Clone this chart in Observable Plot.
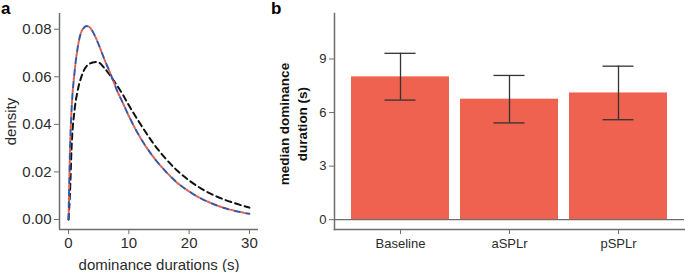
<!DOCTYPE html>
<html>
<head>
<meta charset="utf-8">
<script src="https://cdn.jsdelivr.net/npm/d3@7"></script>
<script src="https://cdn.jsdelivr.net/npm/@observablehq/plot@0.6"></script>
<style>
  html, body { margin: 0; padding: 0; background: #fff; }
  #wrap { position: relative; width: 685px; height: 272px; font-family: "Liberation Sans", Arial, Helvetica, sans-serif; }
  #pa { position: absolute; left: 0; top: 0; }
  #pb { position: absolute; left: 260px; top: 0; }
  .panel-letter { position: absolute; font-weight: bold; font-size: 17px; line-height: 1; }
</style>
</head>
<body>
<div id="wrap">
  <div id="pa"></div>
  <div id="pb"></div>
  <div class="panel-letter" style="left:1px;top:0px;">a</div>
  <div class="panel-letter" style="left:271px;top:0px;">b</div>
</div>
<script>
// Panel a: density curves
const durX = [0, 0.25, 0.5, 1, 1.5, 2, 2.5, 3, 3.5, 4, 4.5, 5, 6, 7, 8, 9, 10, 11, 12, 14, 16, 18, 20, 22, 24, 26, 28, 30];
const densBaseline = [0, 0.012, 0.03, 0.046, 0.054, 0.059, 0.0625, 0.0645, 0.0655, 0.066, 0.0662, 0.066, 0.0635, 0.0602, 0.0565, 0.0525, 0.048, 0.0438, 0.0398, 0.0322, 0.0259, 0.0206, 0.0164, 0.013, 0.0103, 0.0082, 0.0065, 0.005];
const densRed = [0, 0.03, 0.046, 0.062, 0.072, 0.078, 0.0805, 0.0813, 0.0808, 0.079, 0.0765, 0.0735, 0.067, 0.061, 0.0545, 0.049, 0.0435, 0.0385, 0.034, 0.0265, 0.0205, 0.0155, 0.0118, 0.0088, 0.0065, 0.0047, 0.0034, 0.0024];
const densBlue = [0, 0.03, 0.046, 0.062, 0.072, 0.078, 0.0805, 0.0813, 0.0808, 0.079, 0.0765, 0.0735, 0.067, 0.061, 0.0545, 0.049, 0.0435, 0.0385, 0.034, 0.0265, 0.0205, 0.0155, 0.0118, 0.0088, 0.0065, 0.0047, 0.0034, 0.0024];

// Panel b: bars
const conditions = ["Baseline", "aSPLr", "pSPLr"];
const medians = [8.0, 6.75, 7.1];
const errLow = [6.7, 5.42, 5.6];
const errHigh = [9.32, 8.08, 8.6];
const yTicksB = [0, 3, 6, 9];
const xTicksA = [0, 10, 20, 30];
const yTicksA = [0, 0.02, 0.04, 0.06, 0.08];

const axisColor = "#6e6e6e";
const textColor = "#2b2b2b";

const toPts = (ys) => durX.map((x, i) => ({x, y: ys[i]}));

const pa = Plot.plot({
  width: 260, height: 272,
  marginLeft: 59, marginRight: 2, marginTop: 13, marginBottom: 43,
  style: {fontFamily: "Liberation Sans, Arial, sans-serif", fontSize: "15px", color: textColor, background: "transparent"},
  x: {domain: [-1.5, 31.5]},
  y: {domain: [-0.0042, 0.0866]},
  marks: [
    Plot.ruleX([-1.5], {stroke: axisColor, strokeWidth: 1.5}),
    Plot.ruleY([-0.0042], {stroke: axisColor, strokeWidth: 1.5}),
    Plot.axisX({ticks: xTicksA, tickSize: 5, tickPadding: 3, stroke: axisColor, fill: textColor, fontSize: 15,
      label: "dominance durations (s)", labelAnchor: "center", labelArrow: "none", labelOffset: 40}),
    Plot.axisY({ticks: yTicksA, tickSize: 5, tickPadding: 3, stroke: axisColor, fill: textColor, fontSize: 15,
      tickFormat: d3.format(".2f"),
      label: "density", labelAnchor: "center", labelArrow: "none", labelOffset: 54}),
    Plot.line(toPts(densBaseline), {x: "x", y: "y", stroke: "#111", strokeWidth: 2, strokeDasharray: "6,4", curve: "monotone-x"}),
    Plot.line(toPts(densBlue), {x: "x", y: "y", stroke: "#3c56a6", strokeWidth: 2, strokeDasharray: "6,6", curve: "monotone-x"}),
    Plot.line(toPts(densRed), {x: "x", y: "y", stroke: "#e8604e", strokeWidth: 2, strokeDasharray: "3,9", strokeDashoffset: -7.5, curve: "monotone-x"})
  ]
});
document.getElementById("pa").append(pa);

const barData = conditions.map((c, i) => ({c, m: medians[i], lo: errLow[i], hi: errHigh[i]}));

const pb = Plot.plot({
  width: 425, height: 272,
  marginLeft: 74, marginRight: 1, marginTop: 13, marginBottom: 43,
  style: {fontFamily: "Liberation Sans, Arial, sans-serif", fontSize: "13px", color: textColor, background: "transparent"},
  x: {domain: conditions, paddingInner: 0.1, paddingOuter: 0.145},
  y: {domain: [-0.55, 11.55]},
  marks: [
    Plot.barY(barData, {x: "c", y1: 0, y2: "m", fill: "#ef6250"}),
    Plot.ruleY([0], {stroke: axisColor, strokeWidth: 1.3}),
    Plot.ruleX(barData, {x: "c", y1: "lo", y2: "hi", stroke: "#333", strokeWidth: 1.3}),
    Plot.tickY(barData, {x: "c", y: "lo", stroke: "#333", strokeWidth: 1.3, insetLeft: 33.5, insetRight: 33.5}),
    Plot.tickY(barData, {x: "c", y: "hi", stroke: "#333", strokeWidth: 1.3, insetLeft: 33.5, insetRight: 33.5}),
    Plot.frame({anchor: "left", stroke: axisColor, strokeWidth: 1.5}),
    Plot.frame({anchor: "bottom", stroke: axisColor, strokeWidth: 1.5}),
    Plot.axisX({tickSize: 5, tickPadding: 4, stroke: axisColor, fill: textColor, fontSize: 13, label: null}),
    Plot.axisY({ticks: yTicksB, tickSize: 5, tickPadding: 3, stroke: axisColor, fill: textColor, fontSize: 13, label: null})
  ]
});
document.getElementById("pb").append(pb);

// two-line bold y label for panel b
const svgB = d3.select(pb);
const lab = svgB.append("text")
  .attr("transform", "translate(29,124) rotate(-90)")
  .attr("text-anchor", "middle")
  .attr("font-weight", "bold")
  .attr("font-size", 13.5)
  .attr("fill", "#111")
  .attr("font-family", "Liberation Sans, Arial, sans-serif");
lab.append("tspan").attr("x", 0).attr("dy", 0).text("median dominance");
lab.append("tspan").attr("x", 0).attr("dy", 17.5).text("duration (s)");
</script>
</body>
</html>
